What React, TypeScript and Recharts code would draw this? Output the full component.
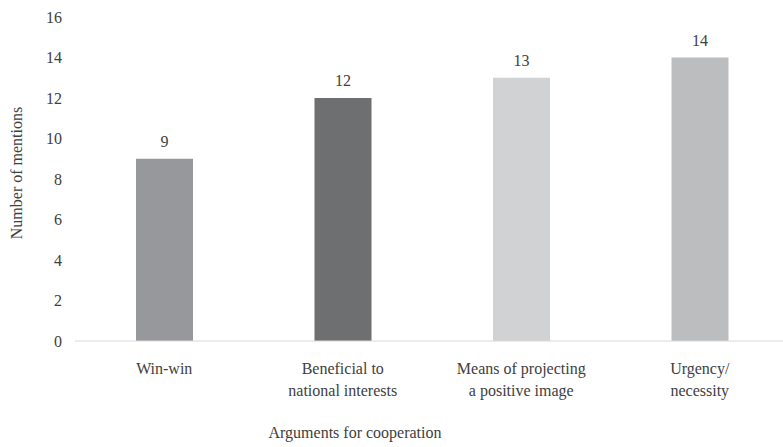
import { BarChart, Bar, XAxis, YAxis, Cell, LabelList } from 'recharts';

const categories = [
  'Win-win',
  'Beneficial to\nnational interests',
  'Means of projecting\na positive image',
  'Urgency/\nnecessity',
];
const mentions = [9, 12, 13, 14];
const barColors = ['#97989b', '#6e6f71', '#d1d2d4', '#bcbdbf'];
const yTicks = [0, 2, 4, 6, 8, 10, 12, 14, 16];

const data = categories.map((name, i) => ({ name, value: mentions[i] }));

// serif first, sans as fallback when no serif face is installed
const FONT = "'Liberation Serif', 'DejaVu Serif', 'Liberation Sans', serif";
const TEXT = '#404040';

// eslint-disable-next-line @typescript-eslint/no-explicit-any
const CategoryTick = (props: any) => {
  const { x, y, payload } = props;
  const lines = String(payload.value).split('\n');
  return (
    <text x={x} y={y} textAnchor="middle" fill={TEXT} fontSize={16} fontFamily={FONT}>
      {lines.map((line, i) => (
        <tspan key={i} x={x} dy={i === 0 ? 33 : 22}>
          {line}
        </tspan>
      ))}
    </text>
  );
};

export default function App() {
  return (
    <div
      style={{
        position: 'absolute',
        left: 0,
        top: 0,
        width: 783,
        height: 447,
        overflow: 'hidden',
        background: '#fff',
      }}
    >
      <BarChart
        width={790}
        height={447}
        data={data}
        margin={{ top: 17, right: 1, bottom: 46, left: 0 }}
      >
        <XAxis
          dataKey="name"
          tick={<CategoryTick />}
          tickLine={false}
          tickSize={0}
          tickMargin={0}
          interval={0}
          height={60}
          axisLine={{ stroke: '#d9d9d9' }}
          label={{
            // eslint-disable-next-line @typescript-eslint/no-explicit-any
            content: (p: any) => (
              <text
                x={p.viewBox.x + p.viewBox.width / 2 - 77}
                y={p.viewBox.y + 97}
                textAnchor="middle"
                fill={TEXT}
                fontSize={16}
                fontFamily={FONT}
              >
                Arguments for cooperation
              </text>
            ),
          }}
        />
        <YAxis
          domain={[0, 16]}
          ticks={yTicks}
          width={75}
          axisLine={false}
          tickLine={false}
          tickSize={0}
          tickMargin={13}
          tick={{ fill: TEXT, fontSize: 16, fontFamily: FONT }}
          label={{
            // eslint-disable-next-line @typescript-eslint/no-explicit-any
            content: (p: any) => {
              const cx = 16;
              const cy = p.viewBox.y + p.viewBox.height / 2 - 6;
              return (
                <text
                  x={cx}
                  y={cy}
                  transform={`rotate(-90, ${cx}, ${cy})`}
                  textAnchor="middle"
                  dominantBaseline="central"
                  fill={TEXT}
                  fontSize={16}
                  fontFamily={FONT}
                >
                  Number of mentions
                </text>
              );
            },
          }}
        />
        <Bar dataKey="value" barSize={57} isAnimationActive={false}>
          {data.map((d, i) => (
            <Cell key={d.name} fill={barColors[i]} />
          ))}
          <LabelList
            dataKey="value"
            position="top"
            offset={12}
            fill={TEXT}
            fontSize={16}
            fontFamily={FONT}
          />
        </Bar>
      </BarChart>
    </div>
  );
}
